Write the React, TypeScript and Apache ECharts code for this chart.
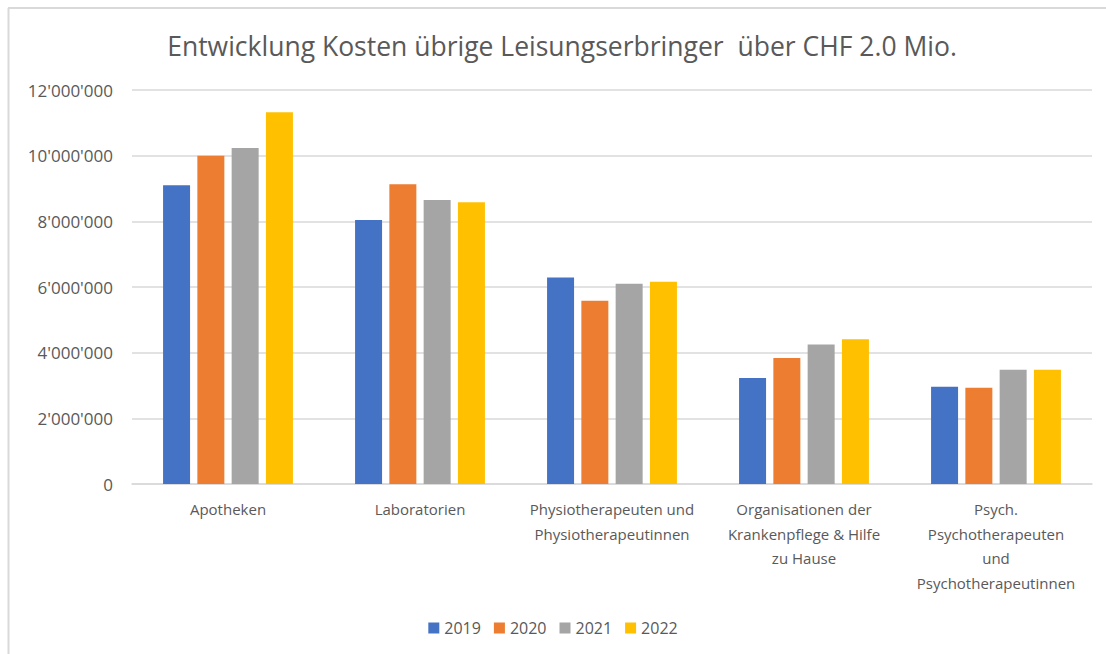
import React, { useEffect, useRef } from "react";
import * as echarts from "echarts";

const categories = [
  "Apotheken",
  "Laboratorien",
  "Physiotherapeuten und\nPhysiotherapeutinnen",
  "Organisationen der\nKrankenpflege & Hilfe\nzu Hause",
  "Psych.\nPsychotherapeuten\nund\nPsychotherapeutinnen",
];
const years = ["2019", "2020", "2021", "2022"];
const colors = ["#4472c4", "#ed7d31", "#a5a5a5", "#ffc000"];
const v2019 = [9100000, 8040000, 6290000, 3230000, 2960000];
const v2020 = [10000000, 9130000, 5580000, 3840000, 2930000];
const v2021 = [10230000, 8650000, 6100000, 4250000, 3480000];
const v2022 = [11320000, 8580000, 6160000, 4410000, 3480000];
const seriesValues = [v2019, v2020, v2021, v2022];
const titleText = "Entwicklung Kosten übrige Leisungserbringer  über CHF 2.0 Mio.";

const FONT = "'Open Sans', 'Noto Sans', sans-serif";

function fmt(v: number): string {
  return String(Math.round(v)).replace(/\B(?=(\d{3})+(?!\d))/g, "'");
}

export default function App() {
  const ref = useRef<HTMLDivElement>(null);
  useEffect(() => {
    document.body.style.margin = "0";
    if (!ref.current) return;
    const chart = echarts.init(ref.current, null, { renderer: "svg" });
    chart.setOption({
      animation: false,
      backgroundColor: "#ffffff",
      textStyle: { fontFamily: FONT },
      title: {
        text: titleText,
        left: 557,
        top: 27,
        textAlign: "center",
        textStyle: { fontFamily: FONT, fontSize: 26.5, fontWeight: "normal", color: "#595959" },
      },
      graphic: [
        { type: "line", shape: { x1: 8.5, y1: 8, x2: 8.5, y2: 654 }, style: { stroke: "#d9d9d9", lineWidth: 2 } },
        { type: "line", shape: { x1: 8, y1: 8, x2: 1106, y2: 8 }, style: { stroke: "#d9d9d9", lineWidth: 2 } },
      ],
      legend: {
        data: years,
        bottom: 13,
        left: "center",
        itemWidth: 11,
        itemHeight: 11,
        itemGap: 13,
        icon: "rect",
        textStyle: { fontFamily: FONT, fontSize: 16, color: "#595959" },
      },
      grid: { left: 132, right: 14, top: 90, bottom: 170, containLabel: false },
      xAxis: {
        type: "category",
        data: categories,
        axisLine: { lineStyle: { color: "#d9d9d9", width: 1.5 } },
        axisTick: { show: false },
        axisLabel: {
          interval: 0,
          margin: 13,
          fontFamily: FONT,
          fontSize: 15,
          lineHeight: 24.5,
          color: "#595959",
          align: "center",
        },
      },
      yAxis: {
        type: "value",
        min: 0,
        max: 12000000,
        interval: 2000000,
        axisLine: { show: false },
        axisTick: { show: false },
        splitLine: { lineStyle: { color: "#d9d9d9", width: 1.5 } },
        axisLabel: {
          margin: 19,
          fontFamily: FONT,
          fontSize: 17,
          color: "#595959",
          formatter: (v: number) => fmt(v),
        },
      },
      series: years.map((y, i) => ({
        name: y,
        type: "bar",
        data: seriesValues[i],
        barWidth: 27,
        barGap: "27%",
        itemStyle: { color: colors[i] },
      })),
    });
    return () => chart.dispose();
  }, []);
  return <div ref={ref} style={{ width: 1106, height: 654 }} />;
}
